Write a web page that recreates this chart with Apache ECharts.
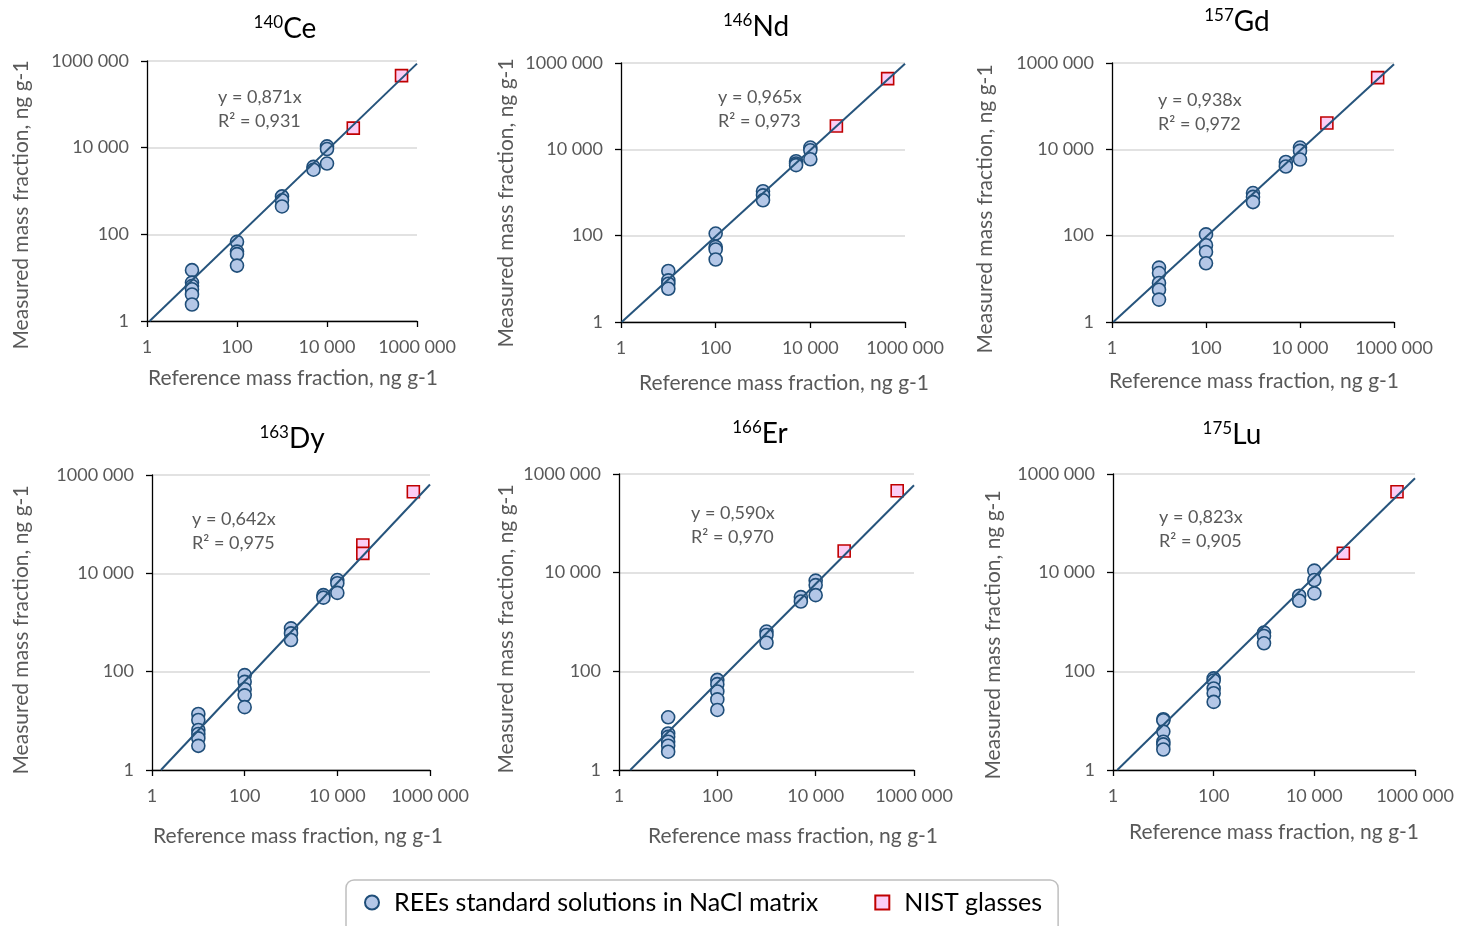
<!DOCTYPE html>
<html>
<head>
<meta charset="utf-8">
<script src="https://cdn.jsdelivr.net/npm/echarts@6.0.0/dist/echarts.min.js"></script>
<style>
  html, body { margin: 0; padding: 0; background: #fff; }
  #chart { width: 1457px; height: 926px; }
</style>
</head>
<body>
<div id="chart"></div>
<script>
// element panels, in reading order
const elements = ['Ce', 'Nd', 'Gd', 'Dy', 'Er', 'Lu']
const isotopes = ['140', '146', '157', '163', '166', '175']
const slopes = [0.871, 0.965, 0.938, 0.642, 0.590, 0.823]
const rSquared = [0.931, 0.973, 0.972, 0.975, 0.970, 0.905]

// axis ticks (log, every two decades)
const tickValues = [1, 100, 10000, 1000000]
const tickLabels = ['1', '100', '10 000', '1000 000']

// reference levels of the standard solutions, ng g-1
const refLevels = [10, 100, 1000, 5000, 10000]

// measured values for each reference level (standard solutions in NaCl)
const ceMeasured = [[14.9, 7.7, 6.4, 5.4, 4.1, 2.4], [67, 40, 35, 19], [750, 610, 440], [3600, 3100], [10700, 9300, 4300]]
const ndMeasured = [[15.2, 9.2, 7.7, 5.9], [112, 55, 48, 28], [1070, 860, 660], [5300, 4700, 4300], [11000, 9500, 5900]]
const gdMeasured = [[18.2, 13.6, 8.0, 5.6, 3.3], [107, 60, 42, 23], [970, 790, 600], [5100, 4000], [11000, 9200, 5800]]
const dyMeasured = [[13.8, 10.4, 6.5, 5.4, 4.4, 3.1], [85, 62, 44, 33, 19], [760, 600, 440], [3600, 3200], [7300, 6300, 4000]]
const erMeasured = [[11.7, 5.5, 4.7, 3.75, 3.1, 2.35], [67, 55, 39, 27, 16.5], [640, 545, 380], [3200, 2600], [6900, 5600, 3500]]
const luMeasured = [[10.7, 10.2, 6.0, 3.75, 3.3, 2.6], [72, 65, 45, 36, 24], [610, 520, 370], [3400, 2700], [11000, 7100, 3800]]

// NIST glasses: reference and measured
const ceNistRef = [38400, 453000], ceNistMeas = [28300, 459000]
const ndNistRef = [35500, 430000], ndNistMeas = [34700, 434000]
const gdNistRef = [37300, 449000], gdNistMeas = [40700, 458000]
const dyNistRef = [35500, 35500, 437000], dyNistMeas = [37700, 25500, 457000]
const erNistRef = [38000, 455000], erNistMeas = [27500, 459000]
const luNistRef = [37700, 439000], luNistMeas = [24700, 438000]

const measured = [ceMeasured, ndMeasured, gdMeasured, dyMeasured, erMeasured, luMeasured]
const nistRef = [ceNistRef, ndNistRef, gdNistRef, dyNistRef, erNistRef, luNistRef]
const nistMeas = [ceNistMeas, ndNistMeas, gdNistMeas, dyNistMeas, erNistMeas, luNistMeas]

const SOLUTIONS = 'REEs standard solutions in NaCl matrix'
const GLASSES = 'NIST glasses'
const FONT = 'Lato, "Open Sans", sans-serif'
const GREY = '#595959'

// panel layout (pixels)
const panels = [
  { grid: [147, 61, 270, 260], title: [285, 29], eq: [218, 97], xName: [293, 378], yName: [21, 205] },
  { grid: [621, 63, 284, 259], title: [756, 27], eq: [718, 97], xName: [784, 383], yName: [506, 203] },
  { grid: [1112, 63, 282, 259], title: [1237, 22], eq: [1158, 100], xName: [1254, 381], yName: [985, 209] },
  { grid: [152, 475, 278, 295], title: [292, 439], eq: [192, 519], xName: [298, 836], yName: [21, 630] },
  { grid: [619, 474, 295, 296], title: [760, 434], eq: [691, 513], xName: [793, 836], yName: [506, 629] },
  { grid: [1113, 474, 302, 296], title: [1232, 435], eq: [1159, 517], xName: [1274, 832], yName: [993, 635] },
]

function tickFormatter(v) {
  const i = Math.round(Math.log10(v) / 2)
  return tickLabels[i] ?? ''
}

function logAxis(i, grid) {
  return {
    type: 'log',
    logBase: 100,
    min: tickValues[0],
    max: tickValues[tickValues.length - 1],
    gridIndex: i,
    axisLine: { show: true, onZero: false, lineStyle: { color: '#000', width: 1.3 } },
    axisTick: { show: true, length: 6, lineStyle: { color: '#000', width: 1.3 } },
    axisLabel: { formatter: tickFormatter, color: GREY, fontSize: 18, fontFamily: FONT, margin: grid ? 18 : 17 },
    splitLine: { show: grid, lineStyle: { color: '#d9d9d9', width: 1.5 } },
    minorTick: { show: false },
  }
}

const grids = [], xAxes = [], yAxes = [], series = [], graphics = []

panels.forEach((p, i) => {
  const [left, top, width, height] = p.grid
  grids.push({ left, top, width, height })
  xAxes.push(logAxis(i, false))
  yAxes.push(logAxis(i, true))

  const pts = []
  measured[i].forEach((vals, k) => vals.forEach((v) => pts.push([refLevels[k], v])))
  series.push({
    name: SOLUTIONS,
    type: 'scatter',
    xAxisIndex: i,
    yAxisIndex: i,
    data: pts,
    symbol: 'circle',
    symbolSize: 13,
    itemStyle: { color: '#b4c7e7', borderColor: '#1f4e79', borderWidth: 1.6, opacity: 1 },
    z: 2,
  })
  series.push({
    name: GLASSES,
    type: 'scatter',
    xAxisIndex: i,
    yAxisIndex: i,
    data: nistRef[i].map((x, k) => [x, nistMeas[i][k]]),
    symbol: 'rect',
    symbolSize: 12,
    itemStyle: { color: '#fbcdf5', borderColor: '#c00000', borderWidth: 1.6, opacity: 1 },
    z: 2,
  })
  // linear trendline through origin, y = k x
  const k = slopes[i]
  const x0 = k < 1 ? 1 / k : 1
  series.push({
    name: 'trend ' + elements[i],
    type: 'line',
    xAxisIndex: i,
    yAxisIndex: i,
    data: [[x0, k * x0], [tickValues[3], k * tickValues[3]]],
    showSymbol: false,
    clip: true,
    lineStyle: { color: '#26547c', width: 2 },
    z: 3,
    silent: true,
  })

  graphics.push({
    type: 'text',
    x: p.title[0],
    y: p.title[1],
    style: {
      text: `{sup|${isotopes[i]}}{el|${elements[i]}}`,
      align: 'center',
      verticalAlign: 'middle',
      rich: {
        sup: { fontSize: 17, lineHeight: 20, verticalAlign: 'top', fontFamily: FONT, fill: '#000' },
        el: { fontSize: 28, lineHeight: 30, fontFamily: FONT, fill: '#000' },
      },
    },
  })
  graphics.push({
    type: 'text',
    x: p.eq[0],
    y: p.eq[1] - 12,
    style: {
      text: `y = ${k.toFixed(3).replace('.', ',')}x\nR² = ${rSquared[i].toFixed(3).replace('.', ',')}`,
      fill: GREY,
      fontSize: 18,
      lineHeight: 24,
      fontFamily: FONT,
      align: 'left',
      verticalAlign: 'top',
    },
  })
  graphics.push({
    type: 'text',
    x: p.xName[0],
    y: p.xName[1],
    style: {
      text: 'Reference mass fraction, ng g-1',
      fill: GREY, fontSize: 21, fontFamily: FONT, align: 'center', verticalAlign: 'middle',
    },
  })
  graphics.push({
    type: 'text',
    x: p.yName[0],
    y: p.yName[1],
    rotation: Math.PI / 2,
    style: {
      text: 'Measured mass fraction, ng g-1',
      fill: GREY, fontSize: 21, fontFamily: FONT, align: 'center', verticalAlign: 'middle',
    },
  })
})

const chart = echarts.init(document.getElementById('chart'))
chart.setOption({
  backgroundColor: '#fff',
  animation: false,
  textStyle: { fontFamily: FONT },
  grid: grids,
  xAxis: xAxes,
  yAxis: yAxes,
  legend: {
    data: [SOLUTIONS, GLASSES],
    left: 346,
    top: 880,
    padding: [10, 16, 24, 18],
    itemWidth: 14,
    itemHeight: 14,
    itemGap: 56,
    borderColor: '#bfbfbf',
    borderWidth: 1.5,
    borderRadius: 8,
    textStyle: { fontSize: 25, fontFamily: FONT, color: '#000', padding: [0, 0, 0, 10] },
  },
  graphic: graphics,
  series,
})
</script>
</body>
</html>
